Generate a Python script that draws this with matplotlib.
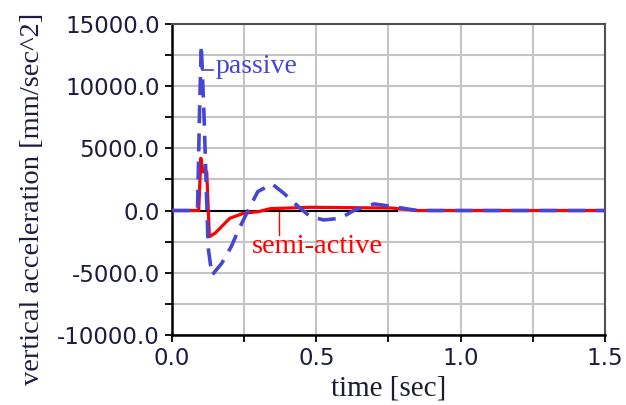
import numpy as np
import matplotlib.pyplot as plt
from matplotlib.ticker import MultipleLocator, FormatStrFormatter

# time [sec] / vertical acceleration [mm/sec^2]
passive_t = [0.0, 0.088, 0.095, 0.101, 0.110, 0.125, 0.138, 0.172, 0.205, 0.230, 0.270,
             0.297, 0.346, 0.387, 0.444, 0.479, 0.526, 0.583, 0.630, 0.700, 0.767, 0.850, 1.5]
passive_a = [0, 0, 8000, 13300, 8000, -3000, -5200, -4240, -2900, -1560, 310,
             1520, 2140, 1390, 180, -490, -760, -620, 0, 530, 310, 0, 0]

semi_t = [0.0, 0.092, 0.0995, 0.107, 0.120, 0.129, 0.149, 0.200, 0.248, 0.300, 0.340,
          0.480, 0.760, 0.850, 1.5]
semi_a = [0, 0, 4200, 3100, 3100, -2100, -1820, -620, -220, -90, 150,
          260, 200, 0, 0]

zero_t = [0.097, 0.78]
zero_a = [0, 0]

blue = '#4646d2'
red = '#ff0000'
serif = 'Liberation Serif'

fig = plt.figure(figsize=(6.26, 4.05), dpi=100)
ax = fig.add_axes([0.275, 0.173, 0.691, 0.768])

ax.plot(zero_t, zero_a, color='black', lw=1.5, zorder=3)
ax.plot(semi_t, semi_a, color=red, lw=2.3, zorder=4)
ax.plot(passive_t, passive_a, color=blue, lw=2.6, ls=(0, (5, 2.8)), zorder=5)

# labels with leader lines
ax.plot([0.102, 0.142], [11300, 11300], color=blue, lw=1.2, zorder=6)
ax.text(0.152, 11600, 'passive', color=blue, fontsize=20, family=serif,
        ha='left', va='center')
ax.plot([0.372, 0.372], [-150, -1950], color=red, lw=1.0, zorder=6)
ax.text(0.505, -2900, 'semi-active', color=red, fontsize=20.5, family=serif,
        ha='center', va='center')

ax.set_xlim(0, 1.5)
ax.set_ylim(-10000, 15000)
ax.xaxis.set_major_locator(MultipleLocator(0.5))
ax.xaxis.set_minor_locator(MultipleLocator(0.25))
ax.yaxis.set_major_locator(MultipleLocator(5000))
ax.yaxis.set_minor_locator(MultipleLocator(2500))
ax.xaxis.set_major_formatter(FormatStrFormatter('%.1f'))
ax.yaxis.set_major_formatter(FormatStrFormatter('%.1f'))
ax.grid(which='both', color='#c4c4c4', lw=1.5)
ax.set_axisbelow(True)
ax.tick_params(which='both', direction='out', length=5, width=1.3, color='black',
               labelsize=16.5, labelcolor='#1c1c40', pad=4)
for lab in ax.get_xticklabels() + ax.get_yticklabels():
    lab.set_family('DejaVu Sans')

for s in ['left', 'bottom']:
    ax.spines[s].set_linewidth(1.8)
    ax.spines[s].set_color('black')
for s in ['top', 'right']:
    ax.spines[s].set_linewidth(1.5)
    ax.spines[s].set_color('#505050')

ax.set_xlabel('time [sec]', family=serif, fontsize=21, color='#1c1c30', labelpad=4)
ax.set_ylabel('vertical acceleration [mm/sec^2]', family=serif, fontsize=20.5,
              color='#1c1c40')
ax.yaxis.set_label_coords(-0.295, 0.437)

fig.savefig('out.png', dpi=100)
